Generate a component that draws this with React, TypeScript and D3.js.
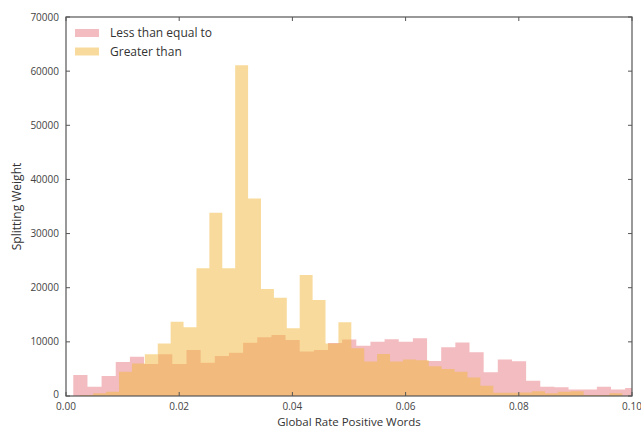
import * as d3 from 'd3';

// pink histogram: "Less than equal to"
const lessBinStart = 0.00129;
const lessBinWidth = 0.0025;
const lessValues = [
  3900, 1700, 3700, 6300, 7250, 5900, 7700, 5900, 8500, 6150,
  7400, 8000, 9850, 10850, 11250, 10350, 8200, 8500, 9800, 10450,
  9300, 10000, 10500, 10000, 10650, 6450, 9000, 9900, 8100, 4400,
  6750, 6400, 2800, 1700, 1600, 1200, 1200, 1700, 1200, 1500
];

// yellow histogram: "Greater than"
const greaterBinStart = 0.00253;
const greaterBinWidth = 0.00228;
const greaterValues = [
  200, 500, 800, 4500, 6000, 7700, 9700, 13700, 12700, 23600,
  33850, 23600, 61100, 36500, 19750, 18150, 12500, 22350, 17750, 9700,
  13600, 8800, 6350, 7750, 6350, 6750, 6600, 5500, 5000, 4500,
  3400, 1900, 600, 600, 650, 900, 500, 800, 900, 200,
  200, 500
];

const xTicks = [0, 0.02, 0.04, 0.06, 0.08, 0.1];
const yTicks = [0, 10000, 20000, 30000, 40000, 50000, 60000, 70000];

const seriesNames = ['Less than equal to', 'Greater than'];
const seriesColors = ['rgb(231,121,129)', 'rgb(242,183,58)'];

export default function App() {
  const width = 641;
  const height = 429;
  const margin = { top: 17, right: 9, bottom: 33, left: 66 };

  const x = d3.scaleLinear()
    .domain([0, 0.1])
    .range([margin.left, width - margin.right]);

  const y = d3.scaleLinear()
    .domain([0, 70000])
    .range([height - margin.bottom, margin.top]);

  const font = "'Open Sans', 'DejaVu Sans', sans-serif";

  // histogram outline as one stepped area, so adjacent bins leave no seams
  const stepPath = (start: number, w: number, values: number[]) => {
    const pts = values.map((v, i) => ({ e: start + i * w, v }));
    pts.push({ e: start + values.length * w, v: values[values.length - 1] });
    return d3.area<{ e: number; v: number }>()
      .x((d) => x(d.e))
      .y0(y(0))
      .y1((d) => y(d.v))
      .curve(d3.curveStepAfter)(pts) as string;
  };

  const x0 = margin.left, x1 = width - margin.right;
  const y0 = height - margin.bottom, y1 = margin.top;

  return (
    <svg width={width} height={height} style={{ position: 'absolute', left: 0, top: 0 }}>
      <defs>
        <clipPath id="plot">
          <rect x={x0} y={y1} width={x1 - x0} height={y0 - y1} />
        </clipPath>
      </defs>
      <rect x={0} y={0} width={width} height={height} fill="#fff" />
      <g clipPath="url(#plot)">
        <path d={stepPath(lessBinStart, lessBinWidth, lessValues)} fill={seriesColors[0]} fillOpacity={0.5} />
        <path d={stepPath(greaterBinStart, greaterBinWidth, greaterValues)} fill={seriesColors[1]} fillOpacity={0.5} />
      </g>
      <rect x={x0} y={y1} width={x1 - x0} height={y0 - y1} fill="none" stroke="#555" strokeWidth={1.2} />
      {xTicks.map((t) => (
        <g key={'x' + t}>
          <line x1={x(t)} x2={x(t)} y1={y0} y2={y0 - 4} stroke="#555" />
          <line x1={x(t)} x2={x(t)} y1={y1} y2={y1 + 4} stroke="#555" />
          <text x={x(t)} y={y0 + 14} textAnchor="middle" fontFamily={font} fontSize={10} fill="#444">
            {t.toFixed(2)}
          </text>
        </g>
      ))}
      {yTicks.map((t) => (
        <g key={'y' + t}>
          <line x1={x0} x2={x0 + 4} y1={y(t)} y2={y(t)} stroke="#555" />
          <line x1={x1} x2={x1 - 4} y1={y(t)} y2={y(t)} stroke="#555" />
          <text x={x0 - 7} y={y(t) + (t === 0 ? 2 : 3.5)} textAnchor="end" fontFamily={font} fontSize={10} fill="#444">
            {t}
          </text>
        </g>
      ))}
      <text x={(x0 + x1) / 2} y={height - 3} textAnchor="middle" fontFamily={font} fontSize={11.5} fill="#333">
        Global Rate Positive Words
      </text>
      <text transform={`translate(21,${(y0 + y1) / 2}) rotate(-90)`} textAnchor="middle"
        fontFamily={font} fontSize={12} fill="#333">
        Splitting Weight
      </text>
      {seriesNames.map((name, i) => (
        <g key={name} transform={`translate(75,${29 + i * 18.5})`}>
          <rect x={0} y={0} width={24} height={8} fill={seriesColors[i]} fillOpacity={0.5} />
          <text x={35} y={8} fontFamily={font} fontSize={12} fill="#333">{name}</text>
        </g>
      ))}
    </svg>
  );
}
